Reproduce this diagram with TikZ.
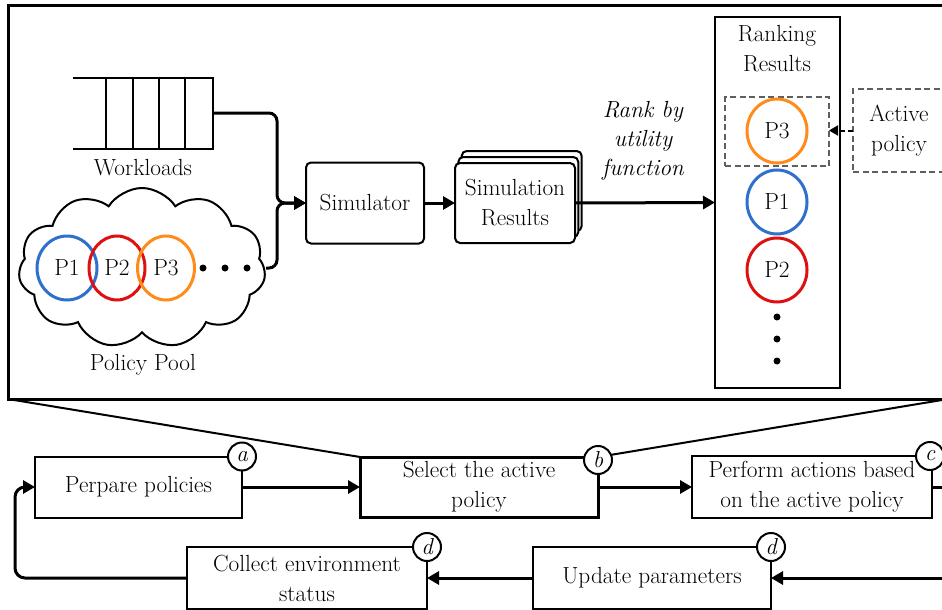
\documentclass[tikz,border=0pt]{standalone}
\usepackage{fontspec}
\usetikzlibrary{arrows.meta,shapes.geometric,shapes.symbols}
\definecolor{pblue}{RGB}{46,112,204}
\definecolor{porange}{RGB}{255,140,26}
\definecolor{pred}{RGB}{222,17,17}
\definecolor{dgray}{RGB}{95,95,95}
\begin{document}
\begin{tikzpicture}[x=1pt,y=-1pt,
  font=\rmfamily\fontsize{23.3}{30}\selectfont,
  every node/.style={outer sep=0pt},
  box/.style={draw, line width=2pt, align=center, inner sep=0pt},
  rbox/.style={box, rounded corners=5pt, fill=white},
  dbox/.style={draw=dgray, line width=2pt, dash pattern=on 6pt off 3.5pt, align=center, inner sep=0pt},
  pol/.style={ellipse, line width=3pt, minimum height=64pt, inner sep=0pt},
  tag/.style={circle, draw, line width=2pt, fill=white, minimum size=28pt, inner sep=0pt,
    font=\rmfamily\fontsize{23}{23}\selectfont\itshape},
  conn/.style={line width=3pt, -{Triangle[length=12pt,width=13pt]}},
  plainconn/.style={line width=3pt},
  guide/.style={line width=2pt},
  dot/.style={circle, fill, inner sep=0pt, minimum size=7pt}
]
\clip (0,0) rectangle (942,610);

% ---------- zoomed-in view of the policy selection ----------
\node[draw, line width=3pt, minimum width=940pt, minimum height=393pt, inner sep=0pt] (frame) at (478,202.5) {};

% workload queue
\draw[guide] (73,78) -- (214,78) (73,149) -- (214,149);
\foreach \x in {106,133,159,185,213} \draw[guide] (\x,78) -- (\x,149);
\coordinate (qout) at (214,113);
\node (wl) at (143,168) {Workloads};

% policy pool
\node[cloud, draw, line width=2pt, fill=white, cloud puffs=11, cloud puff arc=115, aspect=1.55,
      minimum width=247pt, minimum height=160pt, inner sep=0pt] (pool) at (142,268) {};
\node[pol, draw=pblue, minimum width=60pt] (c1) at (67,268) {P1};
\node[pol, draw=pred, minimum width=56pt] (c2) at (117,268) {P2};
\node[pol, draw=porange, minimum width=57pt] (c3) at (166,268) {P3};
\node[dot] (d1) at (203,268) {};
\node[dot] (d2) at (225,268) {};
\node[dot] (d3) at (247,268) {};
\coordinate (pout) at (266,268);
\node (pp) at (143,365) {Policy Pool};

% simulator and results
\node[rbox, minimum width=118pt, minimum height=81pt] (sim) at (365,203) {Simulator};
\node[rbox, minimum width=120pt, minimum height=80pt] (res2) at (521.7,191) {};
\node[rbox, minimum width=120pt, minimum height=80pt] (res1) at (518.3,197) {};
\node[rbox, minimum width=120pt, minimum height=80pt] (res) at (515,203) {Simulation\\Results};

\coordinate (join) at (277,203);
\draw[conn, rounded corners=8pt] (qout) -- (qout -| join) -- (join) -- (sim.west);
\draw[conn, rounded corners=8pt] (pout) -- (pout -| join) -- (join) -- (sim.west);
\draw[conn] (sim.east) -- (res.west);

% ranking
\node[box, minimum width=125pt, minimum height=371pt] (rank) at (777.5,202.5) {};
\node[align=center] (ranktitle) at (777,49) {Ranking\\Results};
\draw[conn] (res.east) -- (rank.west);
\node[align=center, font=\rmfamily\fontsize{23.3}{29}\selectfont\itshape] (rk) at (643,141) {Rank by\\utility\\function};

\node[dbox, minimum width=104pt, minimum height=69pt] (sel) at (777,131.5) {};
\node[pol, draw=porange, minimum width=60pt] (r3) at (777,131) {P3};
\node[pol, draw=pblue, minimum width=60pt] (r1) at (777,202) {P1};
\node[pol, draw=pred, minimum width=60pt] (r2) at (777,270) {P2};
\node[dot] (e1) at (777,317) {};
\node[dot] (e2) at (777,339) {};
\node[dot] (e3) at (777,361) {};

\node[dbox, minimum width=92pt, minimum height=83pt] (act) at (899,130.5) {Active\\policy};
\draw[line width=2pt, draw=black, dash pattern=on 5pt off 3pt, -{Triangle[length=9pt,width=10pt]}]
  (act.west) -- (act.west -| sel.east);

% ---------- control loop ----------
\node[box, minimum width=207pt, minimum height=61pt] (prep) at (138.5,487) {Perpare policies};
\node[box, line width=3pt, minimum width=238pt, minimum height=60pt] (select) at (479,487) {Select the active\\policy};
\node[box, minimum width=240pt, minimum height=62pt] (perform) at (812,487) {Perform actions based\\on the active policy};
\node[box, minimum width=240pt, minimum height=62pt] (collect) at (307,578) {Collect environment\\status};
\node[box, minimum width=238pt, minimum height=62pt] (update) at (652,578) {Update parameters};

\draw[guide] (frame.south west) -- (select.north west);
\draw[guide] (frame.south east) -- (select.north east);

\coordinate (outR) at (948,487);
\coordinate (inR) at (948,578);
\coordinate (loopB) at (15,578);
\coordinate (loopT) at (15,487);
\draw[conn] (prep.east) -- (select.west);
\draw[conn] (select.east) -- (perform.west);
\draw[plainconn] (perform.east) -- (outR);
\draw[conn] (inR) -- (update.east);
\draw[conn] (update.west) -- (collect.east);
\draw[conn, rounded corners=10pt] (collect.west) -- (loopB) -- (loopT) -- (prep.west);

\node[tag] (ta) at (prep.north east) {a};
\node[tag] (tb) at ([yshift=-3pt]select.north east) {b};
\node[tag] (tc) at ([xshift=-2pt]perform.north east) {c};
\node[tag] (td1) at (collect.north east) {d};
\node[tag] (td2) at (update.north east) {d};
\end{tikzpicture}
\end{document}
